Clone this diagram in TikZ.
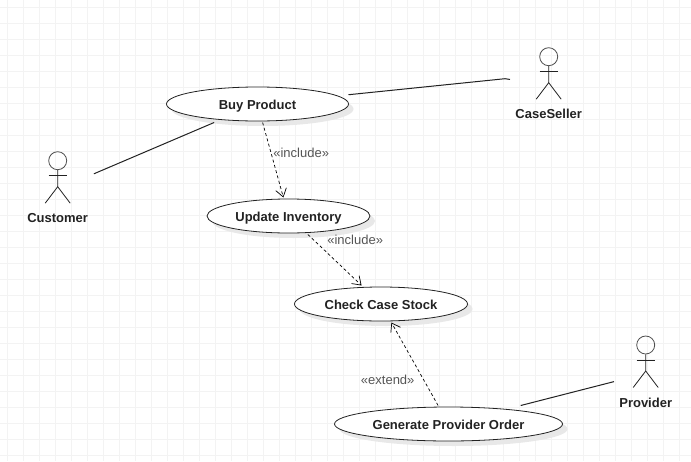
\documentclass[tikz,border=0pt]{standalone}
\usepackage{fontspec}
\setmainfont{Liberation Sans}
\usepackage{xcolor}
\usetikzlibrary{arrows.meta, shapes.geometric, shadows}

\definecolor{gridgray}{HTML}{F3F3F3}
\definecolor{stereogray}{HTML}{555555}
\definecolor{inkgray}{HTML}{222222}

\begin{document}
\begin{tikzpicture}[x=1pt,y=-1pt]
    \tikzstyle{usecase}=[draw=inkgray,ellipse,fill=white,inner sep=0pt,minimum height=34pt,line width=0.8pt,
        drop shadow={shadow xshift=5pt,shadow yshift=-5pt,fill=black!9,opacity=1}]
    \tikzstyle{usecasebox}=[inner sep=0pt,outer sep=0pt,minimum height=37pt,text=inkgray,
        text height=12pt,text depth=0.6pt,font=\fontsize{13}{15}\selectfont\bfseries]
    \tikzstyle{actor}=[inner sep=0pt,minimum height=74pt]
    \tikzstyle{actorhead}=[draw=inkgray!80,circle,inner sep=0pt,minimum size=18pt,line width=0.8pt]
    \tikzstyle{actorlabel}=[text=inkgray,text height=12pt,text depth=0.6pt,font=\fontsize{13}{15}\selectfont\bfseries]
    \tikzstyle{stereo}=[text=stereogray,font=\fontsize{13}{15}\selectfont]
    \tikzstyle{limb}=[draw=inkgray,line width=0.8pt]
    \tikzstyle{edge}=[draw=inkgray,line width=1pt]
    \tikzstyle{edge2}=[draw=black,line width=0.7pt,dash pattern=on 3pt off 2.5pt,-{Straight Barb[length=8pt,width=11pt]}]

    \useasboundingbox (0,0) rectangle (691,461);
    \fill[white] (0,0) rectangle (691,461);

    \foreach \gx in {0,...,42}
        \draw[gridgray] (7.5+16*\gx,0) -- (7.5+16*\gx,461);
    \foreach \gy in {0,...,28}
        \draw[gridgray] (0,7.5+16*\gy) -- (691,7.5+16*\gy);

    \foreach \name/\ux/\uy/\uw/\ulabel in {buy/257.5/104/182/Buy Product,update/288.5/216/163/Update Inventory,check/381/304/173/Check Case Stock,generate/448.5/424/228/Generate Provider Order} {
        \node[usecase,minimum width=\uw pt] (\name shape) at (\ux,\uy) {};
        \node[usecasebox,minimum width=\uw pt] (\name) at (\ux,\uy) {\ulabel};
    }

    \foreach \name/\ax/\ay/\aw/\alabel in {customer/57.7/160.7/72/Customer,seller/548.7/56.7/77/CaseSeller,provider/645.7/345/63/Provider} {
        \begin{scope}[shift={(\ax,\ay)}]
            \node[actor,minimum width=\aw pt] (\name) at (0,28.5) {};
            \node[actorhead] (\name head) at (0,0) {};
            \node[actorlabel] (\name label) at (0,56.5) {\alabel};
            \path[limb] (\name head) -- (0,26) -- (-12.5,42.5);
            \path[limb] (0,26) -- (12.5,42.5);
            \path[limb] (-9,15) -- (9,15);
        \end{scope}
    }

    \coordinate (sellerbend) at (505,78.7);

    \path[edge] (customer) -- (buy);
    \path[edge] (buy) -- (sellerbend) -- (seller);
    \path[edge] (generate) -- (provider);

    \path[edge2] (buy) -- (update);
    \path[edge2] (update) -- (check);
    \path[edge2] (generate) -- (check);

    \node[stereo] (include1) at (301.2,152.7) {«include»};
    \node[stereo] (include2) at (355.2,239.7) {«include»};
    \node[stereo] (extend) at (387.7,379.7) {«extend»};
\end{tikzpicture}
\end{document}
